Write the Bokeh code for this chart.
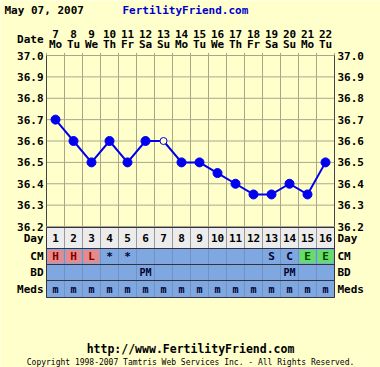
from bokeh.plotting import figure
from bokeh.models import Range1d, ColumnDataSource
from bokeh.core.properties import value
from bokeh.embed import file_html
from bokeh.resources import INLINE

# ---------------- data ----------------
cycle_days = list(range(1, 17))
dates = ["7", "8", "9", "10", "11", "12", "13", "14", "15", "16", "17", "18", "19", "20", "21", "22"]
weekdays = ["Mo", "Tu", "We", "Th", "Fr", "Sa", "Su", "Mo", "Tu", "We", "Th", "Fr", "Sa", "Su", "Mo", "Tu"]
temps = [36.7, 36.6, 36.5, 36.6, 36.5, 36.6, 36.6, 36.5, 36.5, 36.45, 36.4, 36.35, 36.35, 36.4, 36.35, 36.5]
open_point = [False, False, False, False, False, False, True, False, False, False, False, False, False, False, False, False]
cm = ["H", "H", "L", "*", "*", "", "", "", "", "", "", "", "S", "C", "E", "E"]
bd = ["", "", "", "", "", "PM", "", "", "", "", "", "", "", "PM", "", ""]
meds = ["m"] * 16
temp_ticks = [37.0, 36.9, 36.8, 36.7, 36.6, 36.5, 36.4, 36.3, 36.2]
temp_labels = ["37.0", "36.9", "36.8", "36.7", "36.6", "36.5", "36.4", "36.3", "36.2"]
row_names = ["Day", "CM", "BD", "Meds"]
title_date = "May 07, 2007"
site = "FertilityFriend.com"
url = "http://www.FertilityFriend.com"
copyright_txt = "Copyright 1998-2007 Tamtris Web Services Inc. - All Rights Reserved."

# ---------------- style ----------------
BG = "#ffffcc"
GRID = "#a8a888"
BLUE_ROW = "#80a8e0"
RED_CELL = "#e88a8a"
GREEN_CELL = "#66dd66"
DAY_ROW = "#ececec"
PT = "#0000ee"
FONT = value("DejaVu Sans Mono")

W, H = 380, 367
X0, Y0 = 55, 55          # canvas position of day 1 / 37.0
PX_PER_DEG = 171 / 0.8
p = figure(width=W, height=H, output_backend="svg", toolbar_location=None,
           x_range=Range1d(1 - X0 / 18, 1 + (W - X0) / 18),
           y_range=Range1d(37.0 - (H - Y0) / PX_PER_DEG, 37.0 + Y0 / PX_PER_DEG),
           x_axis_type=None, y_axis_type=None, min_border=0,
           background_fill_color=BG, border_fill_color=BG, outline_line_color=None)
p.grid.visible = False
# screen-like helper ranges (pixel layout coordinates)
p.extra_x_ranges = {"px": Range1d(0, W)}
p.extra_y_ranges = {"px": Range1d(H, 0)}

left_edges = [d - 0.5 for d in cycle_days]
right_edges = [d + 0.5 for d in cycle_days]
bounds = left_edges + [right_edges[-1]]

# ---------------- chart grid ----------------
p.segment(x0=bounds, x1=bounds, y0=[36.2] * len(bounds), y1=[37.0 + 0.012] * len(bounds),
          line_color=GRID, line_width=1)
p.segment(x0=[bounds[0]] * len(temp_ticks), x1=[bounds[-1]] * len(temp_ticks),
          y0=temp_ticks, y1=temp_ticks, line_color=GRID, line_width=1)
p.segment(x0=[bounds[0], bounds[-1]], x1=[bounds[0], bounds[-1]], y0=[36.2, 36.2], y1=[37.0, 37.0],
          line_color="#444444", line_width=1)

# ---------------- rows below ----------------
rows_y = {"Day": (227, 248), "CM": (248, 264), "BD": (264, 280), "Meds": (280, 297)}
p.quad(left=left_edges, right=right_edges, top=[rows_y["Day"][0]] * 16, bottom=[rows_y["Day"][1]] * 16,
       fill_color=DAY_ROW, line_color="#999999", line_width=1, y_range_name="px")
cm_colors = [RED_CELL if c in ("H", "L") else GREEN_CELL if c == "E" else BLUE_ROW for c in cm]
for name in ["CM", "BD", "Meds"]:
    t, b = rows_y[name]
    p.quad(left=left_edges, right=right_edges, top=[t] * 16, bottom=[b] * 16,
           fill_color=BLUE_ROW, line_color="#6f93c8", line_width=1, y_range_name="px")
    if name == "CM":
        special = [i for i, c in enumerate(cm_colors) if c != BLUE_ROW]
        p.quad(left=[left_edges[i] + 0.06 for i in special], right=[right_edges[i] - 0.06 for i in special],
               top=[t + 1.5] * len(special), bottom=[b - 1.5] * len(special),
               fill_color=[cm_colors[i] for i in special], line_color=None, y_range_name="px")
# row separators
sep_y = [227, 248, 264, 280, 297]
p.segment(x0=[bounds[0]] * len(sep_y), x1=[bounds[-1]] * len(sep_y), y0=sep_y, y1=sep_y,
          line_color="#333344", line_width=1, y_range_name="px")
p.segment(x0=[bounds[0], bounds[-1]], x1=[bounds[0], bounds[-1]], y0=[227, 227], y1=[297, 297],
          line_color="#333344", line_width=1, y_range_name="px")

# ---------------- temperature line ----------------
p.line(cycle_days, temps, line_color=PT, line_width=2)
filled = ColumnDataSource(dict(x=[d for d, o in zip(cycle_days, open_point) if not o],
                               y=[t for t, o in zip(temps, open_point) if not o]))
hollow = ColumnDataSource(dict(x=[d for d, o in zip(cycle_days, open_point) if o],
                               y=[t for t, o in zip(temps, open_point) if o]))
p.scatter("x", "y", source=filled, size=9, fill_color=PT, line_color=PT)
p.scatter("x", "y", source=hollow, size=7, fill_color=BG, line_color=PT, line_width=1)

# ---------------- texts ----------------
def txt(x, y, t, size="11px", color="black", align="center", xr="default", yr="default", bold=True):
    kw = {}
    if xr != "default":
        kw["x_range_name"] = xr
    if yr != "default":
        kw["y_range_name"] = yr
    p.text(x=x, y=y, text=t, text_font=FONT, text_font_size=size, text_color=color,
           text_align=align, text_baseline="middle",
           text_font_style="bold" if bold else "normal", **kw)

txt([4], [10], [title_date], align="left", xr="px", yr="px")
txt([122], [10], [site], color="#0000cc", align="left", xr="px", yr="px")
txt([43], [39], ["Date"], align="right", xr="px", yr="px")
txt(cycle_days, [33] * 16, dates, yr="px")
txt(cycle_days, [44] * 16, weekdays, yr="px")
txt([43] * len(temp_ticks), temp_ticks, temp_labels, align="right", xr="px")
txt([337] * len(temp_ticks), temp_ticks, temp_labels, align="left", xr="px")

row_label_y = [237.5, 256, 272, 288.5]
txt([43] * 4, row_label_y, row_names, align="right", xr="px", yr="px")
txt([337] * 4, row_label_y, row_names, align="left", xr="px", yr="px")

txt(cycle_days, [237.5] * 16, [str(d) for d in cycle_days], yr="px")
cm_text_colors = ["#7a0000" if c in ("H", "L") else "#004400" if c == "E" else "#000033" for c in cm]
txt(cycle_days, [256] * 16, cm, color=cm_text_colors, yr="px")
txt(cycle_days, [272] * 16, bd, color="#000033", size="10px", yr="px")
txt(cycle_days, [288.5] * 16, meds, color="#000033", size="10px", yr="px")

txt([190], [348], [url], size="11.5px", xr="px", yr="px")
txt([190], [362], [copyright_txt], size="8px", xr="px", yr="px", bold=False)

open("out.html", "w").write(file_html(p, INLINE))
